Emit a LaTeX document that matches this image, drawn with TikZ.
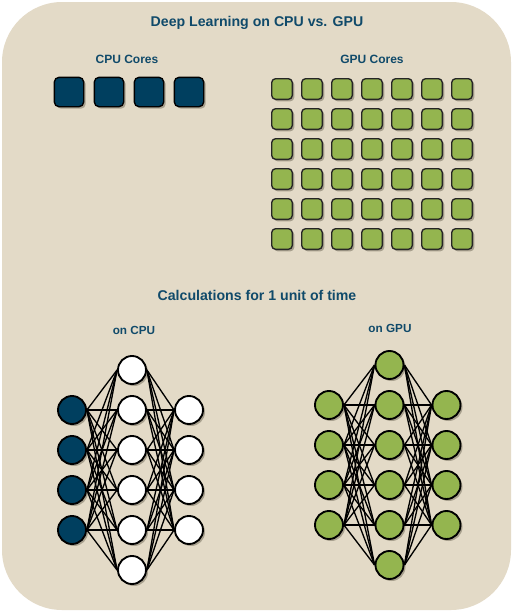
\documentclass[tikz,border=0pt]{standalone}
\usepackage{fontspec}
\setmainfont{Liberation Sans}
\usetikzlibrary{shadows}
\definecolor{bg}{HTML}{E3DAC7}
\definecolor{cpublue}{HTML}{003F5F}
\definecolor{gpugreen}{HTML}{94B54F}
\definecolor{txt}{HTML}{104A6A}
\definecolor{shd}{HTML}{A8A08E}
\begin{document}
\begin{tikzpicture}[x=0.75pt,y=-0.75pt,
  shad/.style={drop shadow={shadow xshift=1.5pt,shadow yshift=-1.5pt,fill=shd,opacity=1}},
  cpucore/.style={draw=black,line width=1pt,fill=cpublue,rounded corners=3.5pt,minimum size=22pt,inner sep=0pt,shad},
  gpucore/.style={draw=black!85,line width=1pt,fill=gpugreen,rounded corners=3pt,minimum size=15.5pt,inner sep=0pt,shad},
  neuron/.style={circle,draw=black,line width=1.4pt,minimum size=21pt,inner sep=0pt,shad},
  link/.style={line width=1pt,black},
  bigtitle/.style={font=\bfseries\fontsize{10.6pt}{12pt}\selectfont,text=txt,anchor=base,inner sep=0pt},
  smalltitle/.style={font=\bfseries\fontsize{9pt}{11pt}\selectfont,text=txt,anchor=base,inner sep=0pt},
  tinytitle/.style={font=\bfseries\fontsize{8.8pt}{10pt}\selectfont,text=txt,anchor=base,inner sep=0pt}]
\useasboundingbox (0,0) rectangle (514,612);
\fill[bg,rounded corners=45pt] (2,2) rectangle (511,610);

% titles
\node[bigtitle] (title) at (257,26) {Deep Learning on CPU vs. GPU};
\node[smalltitle] (cpulbl) at (127,63) {CPU Cores};
\node[smalltitle] (gpulbl) at (372,63) {GPU Cores};
\node[bigtitle] (calc) at (257,300.5) {Calculations for 1 unit of time};
\node[tinytitle] (oncpu) at (134,334) {on CPU};
\node[tinytitle] (ongpu) at (390,332.3) {on GPU};

% CPU cores
\foreach \i in {1,...,4}
  \node[cpucore] (cpu\i) at (29+40*\i,92) {};

% GPU cores
\foreach \r in {1,...,6}
  \foreach \c in {1,...,7}
    \node[gpucore] (gpu-\r-\c) at (252+30*\c,59+30*\r) {};

% CPU network
\foreach \i in {1,...,4}
  \node[neuron,fill=cpublue] (ci\i) at (72,370+40*\i) {};
\foreach \j in {1,...,6}
  \node[neuron,fill=white] (ch\j) at (132,330+40*\j) {};
\foreach \k in {1,...,4}
  \node[neuron,fill=white] (co\k) at (189,370+40*\k) {};
\foreach \i in {1,...,4}
  \foreach \j in {1,...,6}
    \draw[link] (ci\i.east) -- (ch\j.west);
\foreach \j in {1,...,6}
  \foreach \k in {1,...,4}
    \draw[link] (ch\j.east) -- (co\k.west);

% GPU network
\foreach \i in {1,...,4}
  \node[neuron,fill=gpugreen] (gi\i) at (329,365+40*\i) {};
\foreach \j in {1,...,6}
  \node[neuron,fill=gpugreen] (gh\j) at (389.5,325+40*\j) {};
\foreach \k in {1,...,4}
  \node[neuron,fill=gpugreen] (go\k) at (446.5,365+40*\k) {};
\foreach \i in {1,...,4}
  \foreach \j in {1,...,6}
    \draw[link] (gi\i.east) -- (gh\j.west);
\foreach \j in {1,...,6}
  \foreach \k in {1,...,4}
    \draw[link] (gh\j.east) -- (go\k.west);
\end{tikzpicture}
\end{document}
